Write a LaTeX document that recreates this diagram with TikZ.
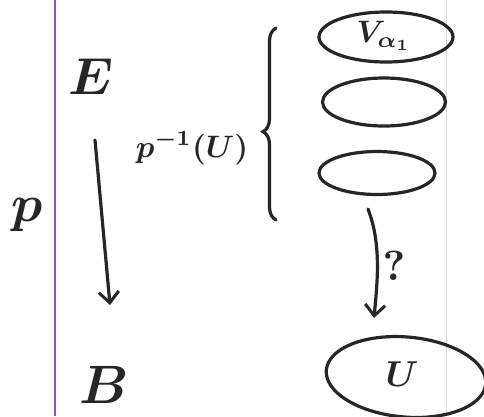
\documentclass[tikz,border=0pt]{standalone}
\usetikzlibrary{decorations.pathreplacing,arrows.meta,shapes.geometric}
\definecolor{ink}{HTML}{262626}
\definecolor{margin}{HTML}{8A55B5}
\definecolor{pageedge}{HTML}{D8D8D8}
\tikzset{
  pen/.style={draw=ink, line width=3.2pt, line cap=round},
  tip/.style={-{Straight Barb[length=11pt,width=20pt,line width=3pt]}},
  sheet/.style={ellipse, pen, inner sep=0pt},
  lab/.style={text=ink, inner sep=0pt, font=\boldmath},
}
\begin{document}
\begin{tikzpicture}[x=1pt,y=-1pt]
  \useasboundingbox (0,0) rectangle (484,416);
  \fill[white] (0,0) rectangle (484,416);
  % notebook margin and page edge
  \draw[margin, line width=1.3pt] (55,0) -- (55,416);
  \draw[pageedge, line width=1pt] (446,0) -- (446,416);

  % total space, base and projection
  \node[lab, scale=5.2] (E) at (91,77) {$E$};
  \node[lab, scale=5.4] (B) at (104,385) {$B$};
  \node[lab, scale=5.2] (p) at (27,215) {$p$};
  \coordinate (Etop) at (95,140);
  \coordinate (Bbot) at (110,305);
  \draw[pen, tip] (Etop) -- (Bbot);

  % preimage and the sheets above U
  \node[lab, scale=3.1] (pre) at (192,148) {$p^{-1}(U)$};
  \coordinate (brtop) at (276,28);
  \coordinate (brbot) at (276,220);
  \draw[pen, decorate, decoration={brace, amplitude=13pt, aspect=0.46}] (brbot) -- (brtop);

  \node[sheet, minimum width=134pt, minimum height=50pt] (V1) at (386,37) {};
  \node[lab, scale=3.1] (V1lab) at (384,36) {$V_{\alpha_1}$};
  \node[sheet, minimum width=123pt, minimum height=48pt] (V2) at (384,102) {};
  \node[sheet, minimum width=116pt, minimum height=43pt] (V3) at (377,173) {};

  % the open set U
  \node[sheet, minimum width=160pt, minimum height=80pt, rotate=-5] (U) at (406,377) {};
  \node[lab, scale=3.6] (Ulab) at (402,374) {$U$};

  % questioned map down to U
  \coordinate (qs) at (368,209);
  \coordinate (qe) at (374,318);
  \draw[pen, tip] (qs) .. controls (382,245) and (377,285) .. (qe);
  \node[lab, scale=4.2] (q) at (394,266) {$?$};
\end{tikzpicture}
\end{document}
